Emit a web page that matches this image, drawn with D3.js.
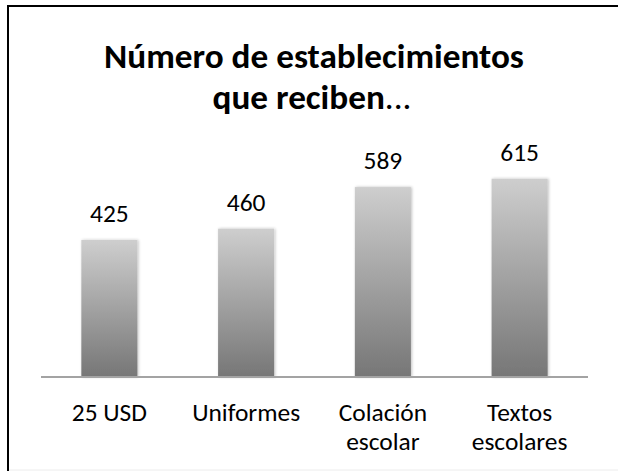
<!DOCTYPE html>
<html>
<head>
<meta charset="utf-8">
<script src="https://cdn.jsdelivr.net/npm/d3@7"></script>
<style>
  html, body { margin: 0; padding: 0; background: #ffffff; }
  svg { display: block; }
</style>
</head>
<body>
<script>
// Chart data
const categories = ["25 USD", "Uniformes", "Colación\nescolar", "Textos\nescolares"];
const values = [425, 460, 589, 615];
const titleLines = ["Número de establecimientos", "que reciben"];
const titleSuffix = "...";
const valueMax = 700;

const W = 618, H = 471;
const FONT = "Carlito, Calibri, Lato, 'Open Sans', sans-serif";

const svg = d3.select("body").append("svg")
  .attr("width", W).attr("height", H);

const defs = svg.append("defs");
const grad = defs.append("linearGradient")
  .attr("id", "barFill")
  .attr("x1", 0).attr("y1", 0).attr("x2", 0).attr("y2", 1);
grad.append("stop").attr("offset", "0%").attr("stop-color", "#cecece");
grad.append("stop").attr("offset", "100%").attr("stop-color", "#767676");

const shadow = defs.append("filter").attr("id", "barShadow")
  .attr("x", "-20%").attr("y", "-10%").attr("width", "140%").attr("height", "120%");
shadow.append("feGaussianBlur").attr("in", "SourceAlpha").attr("stdDeviation", 1.8).attr("result", "blur");
shadow.append("feOffset").attr("in", "blur").attr("dx", 1).attr("dy", 0).attr("result", "off");
shadow.append("feComponentTransfer").attr("in", "off").attr("result", "soft")
  .append("feFuncA").attr("type", "linear").attr("slope", 0.25);
const merge = shadow.append("feMerge");
merge.append("feMergeNode").attr("in", "soft");
merge.append("feMergeNode").attr("in", "SourceGraphic");

// Size a font so a sample string spans a given width
function fitSize(sample, weight, targetWidth, base) {
  const t = svg.append("text")
    .attr("font-family", FONT).attr("font-weight", weight)
    .attr("font-size", base).text(sample);
  const w = t.node().getComputedTextLength();
  t.remove();
  return base * targetWidth / w;
}

const titleSize = fitSize(titleLines[0], "bold", 420, 35);
const labelSize = fitSize("Uniformes", "normal", 108, 24);

// Frame
svg.append("rect")
  .attr("x", 8).attr("y", 6)
  .attr("width", W + 20).attr("height", H + 20)
  .attr("fill", "none").attr("stroke", "#000").attr("stroke-width", 2);
svg.append("line")
  .attr("x1", 9).attr("x2", W).attr("y1", 470).attr("y2", 470)
  .attr("stroke", "#ececec").attr("stroke-width", 1);

// Scales
const x = d3.scaleBand()
  .domain(categories)
  .range([41, 588])
  .paddingInner(0.59)
  .paddingOuter(0.295);

const y = d3.scaleLinear()
  .domain([0, valueMax])
  .range([377, 151.3]);

// Title
const title = svg.append("text")
  .attr("text-anchor", "middle")
  .attr("font-family", FONT)
  .attr("font-size", titleSize)
  .attr("fill", "#000");
title.append("tspan").attr("x", 314).attr("y", 68)
  .attr("font-weight", "bold").text(titleLines[0]);
const t2 = title.append("tspan").attr("x", 312).attr("y", 109);
t2.append("tspan").attr("font-weight", "bold").text(titleLines[1]);
t2.append("tspan").attr("font-weight", "normal").text(titleSuffix);

// Bars
svg.append("g").selectAll("rect")
  .data(values)
  .join("rect")
  .attr("x", (d, i) => x(categories[i]))
  .attr("y", d => y(d))
  .attr("width", x.bandwidth())
  .attr("height", d => y(0) - y(d))
  .attr("fill", "url(#barFill)")
  .attr("filter", "url(#barShadow)");

// Value labels
svg.append("g").selectAll("text")
  .data(values)
  .join("text")
  .attr("x", (d, i) => x(categories[i]) + x.bandwidth() / 2)
  .attr("y", d => y(d) - 18)
  .attr("text-anchor", "middle")
  .attr("font-family", FONT)
  .attr("font-size", labelSize)
  .attr("fill", "#000")
  .text(d => d);

// Category axis
const xAxis = d3.axisBottom(x).tickSize(0).tickFormat("");
const axisG = svg.append("g")
  .attr("transform", `translate(0,${y(0)})`)
  .call(xAxis);
axisG.select(".domain")
  .attr("d", `M${x.range()[0]},0H${x.range()[1]}`)
  .attr("stroke", "#a3a3a3").attr("stroke-width", 2);

const catG = svg.append("g").selectAll("text")
  .data(categories)
  .join("text")
  .attr("text-anchor", "middle")
  .attr("font-family", FONT)
  .attr("font-size", labelSize)
  .attr("fill", "#000");
catG.each(function (c) {
  const cx = x(c) + x.bandwidth() / 2;
  c.split("\n").forEach((line, k) => {
    d3.select(this).append("tspan")
      .attr("x", cx)
      .attr("y", 421 + k * 29)
      .text(line);
  });
});
</script>
</body>
</html>
